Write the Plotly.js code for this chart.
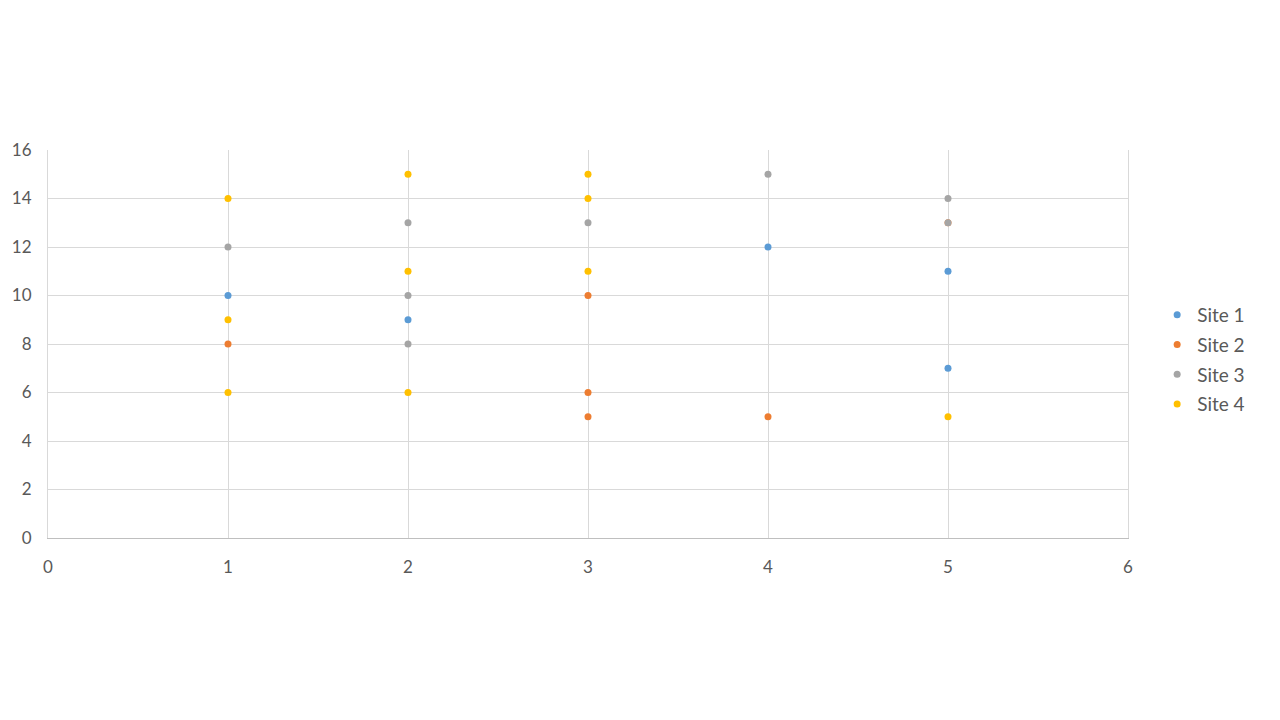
<!DOCTYPE html>
<html><head><meta charset="utf-8">
<script src="https://cdn.plot.ly/plotly-3.0.1.min.js"></script>
<style>html,body{margin:0;padding:0;background:#fff}#chart{width:1280px;height:720px}</style>
</head><body><div id="chart"></div>
<script>
const seriesNames = ["Site 1", "Site 2", "Site 3", "Site 4"];
const seriesColors = ["#5B9BD5", "#ED7D31", "#A5A5A5", "#FFC000"];
const site1X = [1, 2, 4, 5, 5];
const site1Y = [10, 9, 12, 11, 7];
const site2X = [1, 3, 3, 3, 4, 5];
const site2Y = [8, 10, 6, 5, 5, 13];
const site3X = [1, 2, 2, 2, 3, 4, 5, 5];
const site3Y = [12, 13, 10, 8, 13, 15, 14, 13];
const site4X = [1, 1, 1, 2, 2, 2, 3, 3, 3, 5];
const site4Y = [14, 9, 6, 15, 11, 6, 15, 14, 11, 5];

const xs = [site1X, site2X, site3X, site4X];
const ys = [site1Y, site2Y, site3Y, site4Y];
const traces = seriesNames.map((n, i) => ({
  type: "scatter", mode: "markers", name: n, x: xs[i], y: ys[i],
  legendgroup: "g" + i,
  marker: {color: seriesColors[i], size: 7}
}));

const layout = {
  width: 1280, height: 720,
  margin: {l: 48, r: 152, t: 150, b: 182},
  paper_bgcolor: "#fff", plot_bgcolor: "#fff",
  font: {family: "Lato, 'Open Sans', sans-serif", color: "#595959", size: 17},
  showlegend: true,
  legend: {x: 1.027, y: 0.46, xanchor: "left", yanchor: "middle", traceorder: "grouped", tracegroupgap: 2,
           font: {size: 19, color: "#595959"}, itemwidth: 30},
  xaxis: {range: [0, 6], dtick: 1, tick0: 0, showgrid: true, gridcolor: "#D9D9D9", zeroline: false,
          showline: true, linecolor: "#BFBFBF", ticks: "", ticklabelstandoff: 14, fixedrange: true},
  yaxis: {range: [0, 16], dtick: 2, tick0: 0, showgrid: true, gridcolor: "#D9D9D9", zeroline: false,
          showline: true, linecolor: "#D9D9D9", mirror: true, ticks: "", ticklabelstandoff: 12, fixedrange: true}
};
Plotly.newPlot("chart", traces, layout, {displayModeBar: false, staticPlot: true});
</script></body></html>
